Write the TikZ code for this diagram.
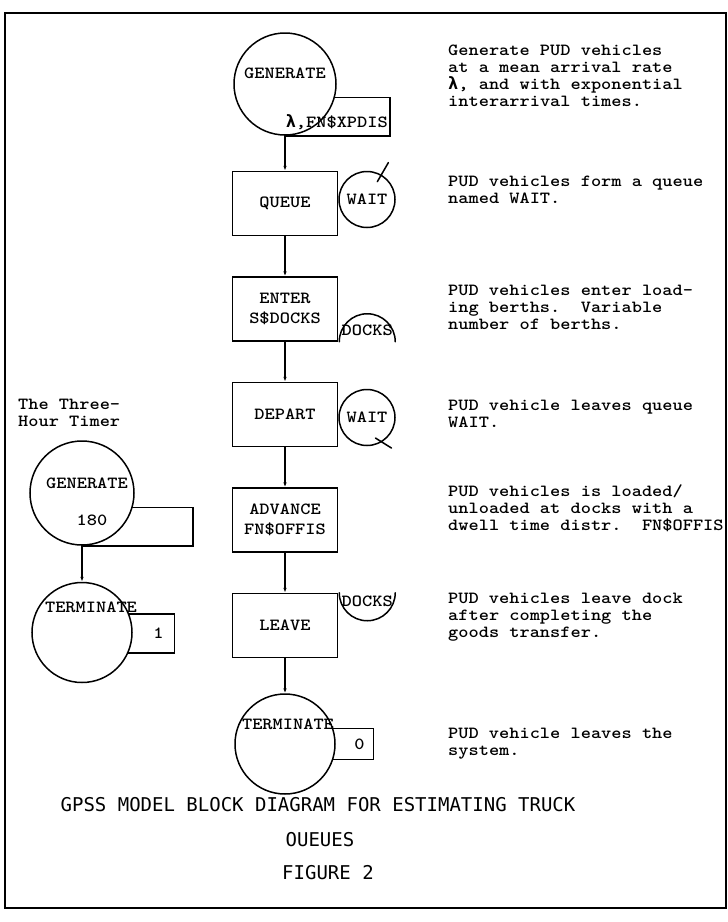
\documentclass[tikz,border=0pt]{standalone}
\usepackage{fontspec}
\newfontfamily\capfont{DejaVu Sans Mono}
\newfontfamily\greekfont{DejaVu Sans Mono}
\newfontfamily\twfont{lmmonolt10-bold}[Extension=.otf, FakeStretch=1.143]
\usetikzlibrary{arrows.meta,positioning,calc,backgrounds}
\newcommand\typeface{\twfont\fontsize{17}{20}\selectfont}
\newcommand\lam{{\greekfont\bfseries\fontsize{17}{17}\selectfont λ}}
\tikzset{
  blockbox/.style={draw=black, line width=1.5pt, minimum width=105pt, minimum height=64pt, inner sep=0pt, align=center, font=\typeface},
  blockcirc/.style={draw=black, fill=white, line width=1.5pt, circle, inner sep=0pt, font=\typeface},
  qcirc/.style={blockcirc, minimum size=56pt},
  numbox/.style={draw=black, line width=1.5pt, minimum height=31pt, inner sep=0pt, text width=26pt, align=right, font=\typeface},
  lbl/.style={inner sep=0pt, font=\typeface},
  descr/.style={anchor=north west, align=left, inner sep=0pt, font=\twfont\fontsize{17}{17}\selectfont\frenchspacing},
  capline/.style={inner sep=0pt, font=\capfont\fontsize{19}{20}\selectfont},
  blockline/.style={line width=1.5pt, line cap=round},
  link/.style={-{Latex[length=5pt,width=3.5pt]}, line width=1.3pt},
  frameline/.style={line width=2pt}
}

\begin{document}
\begin{tikzpicture}[x=1pt, y=1pt]
\useasboundingbox (0,0) rectangle (728,-922);
\draw[frameline] (5,-13) rectangle (726,-908);

% main chain
\node[blockcirc, minimum size=102pt] (gen) at (285,-84) {};
\node[lbl] (gentxt) at ($(gen)+(0,11)$) {GENERATE};
\node[lbl, anchor=base east] (genarg) at ($(gen.south)+(103,8)$) {\lam,FN\$XPDIS};
\node[blockbox, below=35pt of gen] (queue) {QUEUE};
\node[qcirc, right=0pt of queue, yshift=4pt] (qwait) {WAIT};
\draw[blockline] ($(qwait.60)+(-4,-7)$) -- ($(qwait.60)+(7,12)$);
\node[blockbox, below=40pt of queue] (enter) {ENTER\\S\$DOCKS};
\draw[blockline] ($(enter.south east)+(1,0)$) arc[start angle=180, end angle=0, radius=28pt];
\node[lbl] (edocks) at ($(enter.south east)+(29,11)$) {DOCKS};
\node[blockbox, below=40pt of enter] (depart) {DEPART};
\node[qcirc, right=0pt of depart, yshift=-3pt] (dwait) {WAIT};
\draw[blockline] ($(dwait.-55)+(-8,3)$) -- ($(dwait.-55)+(8,-7)$);
\node[blockbox, below=40pt of depart] (advance) {ADVANCE\\FN\$OFFIS};
\node[blockbox, below=40pt of advance] (leave) {LEAVE};
\draw[blockline] ($(leave.north east)+(1,0)$) arc[start angle=180, end angle=360, radius=28pt];
\node[lbl] (ldocks) at ($(leave.north east)+(29,-9)$) {DOCKS};
\node[blockcirc, minimum size=100pt, below=35pt of leave] (term) {};
\node[lbl] (termtxt) at ($(term)+(3,20)$) {TERMINATE};

% timer
\node[descr] (timertxt) at (18,-399) {The Three-\\Hour Timer};
\node[blockcirc, minimum size=104pt] (tgen) at (82,-493) {};
\node[lbl] (tgentxt) at ($(tgen)+(5,10)$) {GENERATE};
\node[lbl] (tgenarg) at ($(tgen)+(10,-27)$) {180};
\node[blockcirc, minimum size=100pt, below=36pt of tgen] (tterm) {};
\node[lbl] (ttermtxt) at ($(tterm)+(9,25)$) {TERMINATE};

\begin{scope}[on background layer]
\draw[blockline] (gen.center |- gen.-15) rectangle ($(gen.south)+(105,0)$);
\draw[blockline] (tgen.center |- tgen.-16) rectangle ($(tgen.south)+(111,0)$);
\node[numbox, minimum width=44pt, anchor=west] (tzero) at ($(term.east)+(-7,0)$) {0};
\node[numbox, minimum width=48pt, minimum height=39pt, anchor=west] (tone) at ($(tterm.east)+(-7,-1)$) {1};
\end{scope}

\draw[link] (gen.south) -- (queue.north);
\draw[link] (queue.south) -- (enter.north);
\draw[link] (enter.south) -- (depart.north);
\draw[link] (depart.south) -- (advance.north);
\draw[link] (advance.south) -- (leave.north);
\draw[link] (leave.south) -- (term.north);
\draw[link] (tgen.south) -- (tterm.north);

% notes
\node[descr] (d1) at (448,-45) {Generate PUD vehicles\\at a mean arrival rate\\\lam, and with exponential\\interarrival times.};
\node[descr] (d2) at (448,-176) {PUD vehicles form a queue\\named WAIT.};
\node[descr] (d3) at (448,-285) {PUD vehicles enter load-\\ing berths.~~Variable\\number of berths.};
\node[descr] (d4) at (448,-400) {PUD vehicle leaves queue\\WAIT.};
\node[descr] (d5) at (448,-485) {PUD vehicles is loaded/\\unloaded at docks with a\\dwell time distr.~~FN\$OFFIS};
\node[descr] (d6) at (448,-593) {PUD vehicles leave dock\\after completing the\\goods transfer.};
\node[descr] (d7) at (448,-728) {PUD vehicle leaves the\\system.};

% caption
\node[capline] (cap1) at (318,-805) {GPSS MODEL BLOCK DIAGRAM FOR ESTIMATING TRUCK};
\node[capline] (cap2) at (320,-840) {OUEUES};
\node[capline] (cap3) at (328,-873) {FIGURE 2};
\end{tikzpicture}
\end{document}
